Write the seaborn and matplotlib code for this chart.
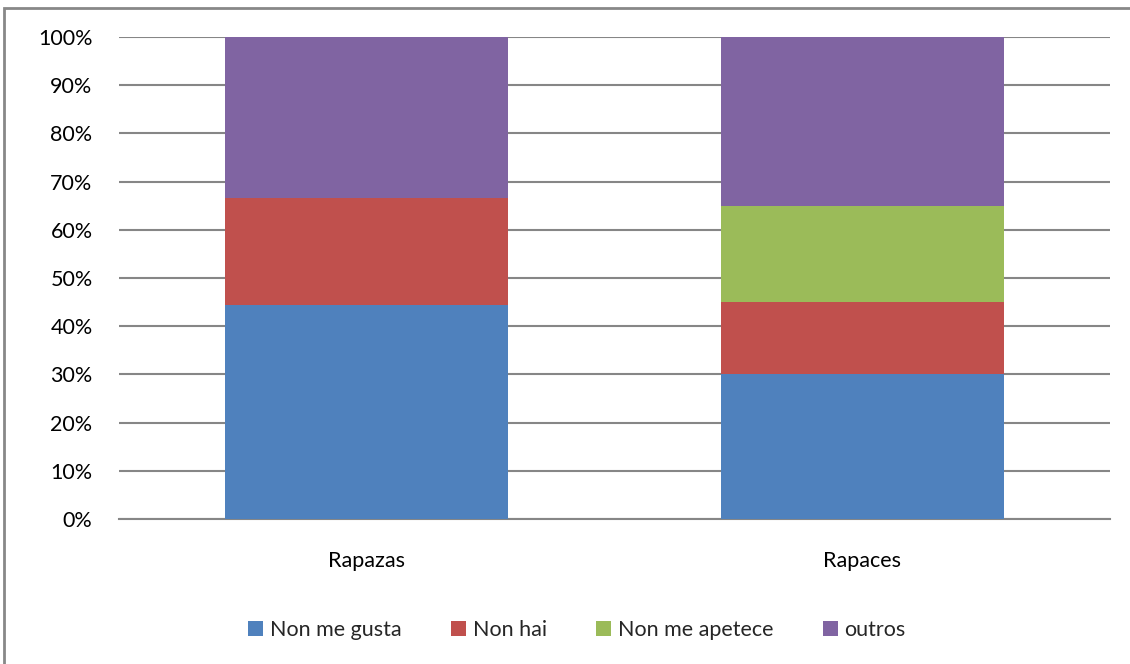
import matplotlib
matplotlib.use("Agg")
import matplotlib.pyplot as plt
from matplotlib.patches import Patch, Rectangle
import numpy as np
import pandas as pd
import seaborn as sns

# Survey answers, percent of each group
groups = ["Rapazas", "Rapaces"]
series = ["Non me gusta", "Non hai", "Non me apetece", "outros"]
non_me_gusta = [44.44, 30.0]
non_hai = [22.22, 15.0]
non_me_apetece = [0.0, 20.0]
outros = [33.33, 35.0]
yticks = [0, 10, 20, 30, 40, 50, 60, 70, 80, 90, 100]
colors = ["#4F81BD", "#C0504D", "#9BBB59", "#8064A2"]

sns.set_theme(style="white")
plt.rcParams["font.family"] = ["Lato", "DejaVu Sans"]

fig = plt.figure(figsize=(11.3, 6.64), dpi=100)
W, H = 1130, 664
ax = fig.add_axes([119 / W, 1 - 519 / H, (1110 - 119) / W, (519 - 37) / H])

# Stack by drawing cumulative totals from the top layer down
values = [non_me_gusta, non_hai, non_me_apetece, outros]
cum = np.cumsum(np.array(values), axis=0)
for i in range(len(series) - 1, -1, -1):
    df = pd.DataFrame({"group": groups, "value": cum[i]})
    sns.barplot(data=df, x="group", y="value", color=colors[i],
                width=0.571, saturation=1, ax=ax, zorder=3,
                linewidth=0)

ax.set_xlim(-0.5, 1.5)
ax.set_ylim(0, 100)
ax.set_yticks(yticks)
ax.set_yticklabels([f"{t}%" for t in yticks])
ax.set_xlabel("")
ax.set_ylabel("")
ax.yaxis.grid(True, color="#868686", linewidth=1.5, zorder=0)
ax.set_axisbelow(True)
for side in ["top", "right", "left"]:
    ax.spines[side].set_visible(False)
ax.spines["bottom"].set_color("#868686")
ax.spines["bottom"].set_linewidth(1.5)
ax.tick_params(axis="y", length=0, pad=19, labelsize=15.5, labelcolor="#000000")
ax.tick_params(axis="x", length=0, pad=23, labelsize=15.5, labelcolor="#000000")

handles = [Patch(facecolor=c, edgecolor="none") for c in colors]
fig.legend(handles, series, loc="center", bbox_to_anchor=(577 / W, 1 - 630 / H),
           ncol=4, frameon=False, fontsize=15.5, handlelength=0.7,
           handleheight=0.7, handletextpad=0.3, columnspacing=2.3)

# Chart frame
fig.patches.append(Rectangle((4 / W, -0.05), 1.2, 1 - 8 / H + 0.05,
                             transform=fig.transFigure, fill=False,
                             edgecolor="#888888", linewidth=2))

fig.savefig("out.png", dpi=100)
